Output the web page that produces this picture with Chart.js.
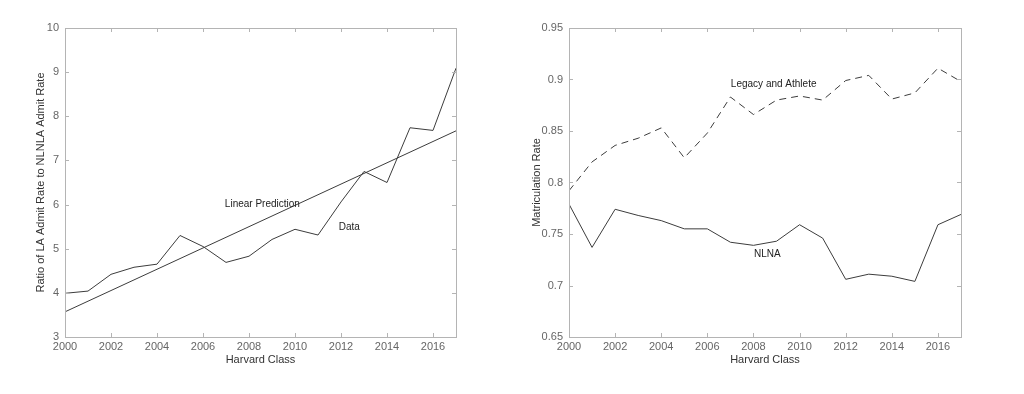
<!DOCTYPE html>
<html>
<head>
<meta charset="utf-8">
<script src="https://cdn.jsdelivr.net/npm/chart.js@4.4.1/dist/chart.umd.min.js"></script>
<style>
  body { margin: 0; background: #fff; }
  .box { position: absolute; top: 0; width: 512px; height: 394px; }
</style>
</head>
<body>
<div class="box" style="left:0"><canvas id="ratioChart" width="512" height="394"></canvas></div>
<div class="box" style="left:512px"><canvas id="matricChart" width="512" height="394"></canvas></div>
<script>
// classes
var years = [2000, 2001, 2002, 2003, 2004, 2005, 2006, 2007, 2008, 2009, 2010, 2011, 2012, 2013, 2014, 2015, 2016, 2017];
var xTicks = [2000, 2002, 2004, 2006, 2008, 2010, 2012, 2014, 2016];

// left chart
var ratioData = [3.99, 4.04, 4.42, 4.58, 4.65, 5.30, 5.05, 4.69, 4.83, 5.21, 5.44, 5.31, 6.06, 6.75, 6.50, 7.74, 7.68, 9.09];
var predYears = [2000, 2017];
var predValues = [3.57, 7.67];
var ratioTicks = [3, 4, 5, 6, 7, 8, 9, 10];

// right chart
var legacyAthlete = [0.792, 0.820, 0.836, 0.843, 0.853, 0.824, 0.848, 0.883, 0.866, 0.880, 0.884, 0.880, 0.899, 0.904, 0.881, 0.887, 0.911, 0.898];
var nlna = [0.779, 0.737, 0.774, 0.768, 0.763, 0.755, 0.755, 0.742, 0.739, 0.743, 0.759, 0.746, 0.706, 0.711, 0.709, 0.704, 0.759, 0.769];
var matricTicks = [0.65, 0.7, 0.75, 0.8, 0.85, 0.9, 0.95];
var matricTickLabels = ['0.65', '0.7', '0.75', '0.8', '0.85', '0.9', '0.95'];

function toPoints(xs, ys) {
    var pts = [];
    for (var i = 0; i < xs.length; i++) {
        pts.push({x: xs[i], y: ys[i]});
    }
    return pts;
}

// box round the plot with ticks pointing inwards on every side
var framePlugin = {
    id: 'frame',
    afterDraw: function(chart) {
        var ctx = chart.ctx;
        var a = chart.chartArea;
        var xs = chart.scales.x, ys = chart.scales.y;
        ctx.save();
        ctx.strokeStyle = '#b4b4b4';
        ctx.lineWidth = 1;
        ctx.strokeRect(a.left + 0.5, a.top + 0.5, a.right - a.left, a.bottom - a.top);
        ctx.beginPath();
        xs.ticks.forEach(function(t) {
            var px = Math.round(xs.getPixelForValue(t.value)) + 0.5;
            ctx.moveTo(px, a.bottom); ctx.lineTo(px, a.bottom - 4);
            ctx.moveTo(px, a.top); ctx.lineTo(px, a.top + 4);
        });
        ys.ticks.forEach(function(t) {
            var py = Math.round(ys.getPixelForValue(t.value)) + 0.5;
            ctx.moveTo(a.left, py); ctx.lineTo(a.left + 4, py);
            ctx.moveTo(a.right, py); ctx.lineTo(a.right - 4, py);
        });
        ctx.stroke();
        ctx.restore();
    }
};

// text labels placed in data units
var notesPlugin = {
    id: 'notes',
    afterDatasetsDraw: function(chart, args, opts) {
        var ctx = chart.ctx;
        ctx.save();
        ctx.font = '10px "Liberation Sans", Arial, sans-serif';
        ctx.fillStyle = '#222';
        ctx.textBaseline = 'middle';
        ctx.textAlign = 'left';
        (opts.items || []).forEach(function(n) {
            ctx.fillText(n.text, chart.scales.x.getPixelForValue(n.x), chart.scales.y.getPixelForValue(n.y));
        });
        ctx.restore();
    }
};

function makeOptions(yMin, yMax, yTickValues, yLabel, yTitlePad, padRight, notes, tickFmt) {
    return {
        responsive: false,
        animation: false,
        layout: {padding: {left: 0, right: padRight, top: 28, bottom: 0}},
        plugins: {
            legend: {display: false},
            tooltip: {enabled: false},
            notes: {items: notes}
        },
        scales: {
            x: {
                type: 'linear',
                min: 2000,
                max: 2017,
                grid: {display: false, drawTicks: false},
                border: {display: false},
                afterBuildTicks: function(s) { s.ticks = xTicks.map(function(v) { return {value: v}; }); },
                afterFit: function(s) { s.height = 57; },
                ticks: {
                    color: '#666',
                    padding: 3,
                    maxRotation: 0,
                    font: {family: '"Liberation Sans", Arial, sans-serif', size: 11},
                    callback: function(v) { return String(v); }
                },
                title: {
                    display: true,
                    text: 'Harvard Class',
                    color: '#333',
                    font: {family: '"Liberation Sans", Arial, sans-serif', size: 11},
                    padding: {top: 0, bottom: 27}
                }
            },
            y: {
                min: yMin,
                max: yMax,
                grid: {display: false, drawTicks: false},
                border: {display: false},
                afterBuildTicks: function(s) { s.ticks = yTickValues.map(function(v) { return {value: v}; }); },
                afterFit: function(s) { s.width = yTitlePad.width; },
                ticks: {
                    color: '#666',
                    padding: 6,
                    font: {family: '"Liberation Sans", Arial, sans-serif', size: 11},
                    callback: tickFmt
                },
                title: {
                    display: true,
                    text: yLabel,
                    color: '#333',
                    font: {family: '"Liberation Sans", Arial, sans-serif', size: 11},
                    padding: {top: yTitlePad.top, bottom: 0}
                }
            }
        }
    };
}

function pageLoad() {
    var ctx1 = document.getElementById('ratioChart');
    var ratioChart = new Chart(ctx1, {
        type: 'scatter',
        data: {
            datasets: [{
                label: 'Data',
                data: toPoints(years, ratioData),
                showLine: true,
                borderColor: '#3c3c3c',
                borderWidth: 1,
                pointRadius: 0
            }, {
                label: 'Linear Prediction',
                data: toPoints(predYears, predValues),
                showLine: true,
                borderColor: '#3c3c3c',
                borderWidth: 1,
                pointRadius: 0
            }]
        },
        options: makeOptions(3, 10, ratioTicks, 'Ratio of LA Admit Rate to NLNLA Admit Rate',
            {width: 65, top: 34}, 56,
            [{text: 'Linear Prediction', x: 2006.95, y: 6.0}, {text: 'Data', x: 2011.9, y: 5.48}],
            function(v) { return String(v); }),
        plugins: [framePlugin, notesPlugin]
    });

    var ctx2 = document.getElementById('matricChart');
    var matricChart = new Chart(ctx2, {
        type: 'scatter',
        data: {
            datasets: [{
                label: 'Legacy and Athlete',
                data: toPoints(years, legacyAthlete),
                showLine: true,
                borderColor: '#3c3c3c',
                borderWidth: 1,
                borderDash: [7, 5],
                pointRadius: 0
            }, {
                label: 'NLNA',
                data: toPoints(years, nlna),
                showLine: true,
                borderColor: '#3c3c3c',
                borderWidth: 1,
                pointRadius: 0
            }]
        },
        options: makeOptions(0.65, 0.95, matricTicks, 'Matriculation Rate',
            {width: 57, top: 18}, 63,
            [{text: 'Legacy and Athlete', x: 2007.02, y: 0.8956}, {text: 'NLNA', x: 2008.02, y: 0.7306}],
            function(v, i) { return matricTickLabels[i]; }),
        plugins: [framePlugin, notesPlugin]
    });
}

window.onload = pageLoad;
</script>
</body>
</html>
